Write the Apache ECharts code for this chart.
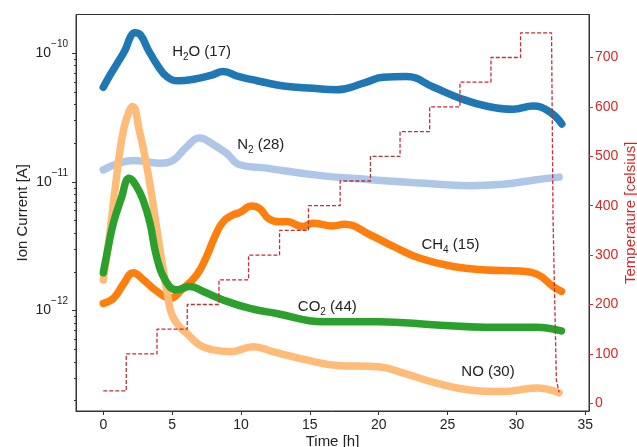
<!DOCTYPE html>
<html><head><meta charset="utf-8">
<script src="https://cdn.jsdelivr.net/npm/echarts@6/dist/echarts.min.js"></script>
<style>html,body{margin:0;padding:0;background:#fff}#c{width:637px;height:447px}</style>
</head><body><div id="c"></div>
<script>
// ---- data ----
const h2oTime = [0, 0.5, 1.0, 1.6, 2.0, 2.3, 2.7, 3.27, 4.0, 4.6, 5.44, 6.65, 7.87, 8.7, 9.8, 10.9, 12.0, 13.1, 15.2, 16.9, 18.9, 20.3, 22.0, 24.0, 25.9, 27.8, 29.75, 31.2, 32.4, 33.3];
const h2oVal  = [5.44e-11, 6.78e-11, 8.3e-11, 1.066e-10, 1.36e-10, 1.445e-10, 1.39e-10, 1.06e-10, 7.87e-11, 6.6e-11, 6.1e-11, 6.3e-11, 6.77e-11, 7.2e-11, 6.6e-11, 6.2e-11, 5.85e-11, 5.57e-11, 5.34e-11, 5.2e-11, 5.85e-11, 6.5e-11, 6.6e-11, 5.44e-11, 4.47e-11, 3.89e-11, 3.67e-11, 3.89e-11, 3.51e-11, 2.82e-11];

const n2Time = [0, 1.0, 2.2, 3.2, 4.1, 5.1, 6.0, 7.0, 8.0, 8.95, 9.9, 11.86, 15.5, 19.4, 23.0, 26.6, 29.05, 31.45, 33.1];
const n2Val  = [1.24e-11, 1.38e-11, 1.47e-11, 1.43e-11, 1.40e-11, 1.48e-11, 1.85e-11, 2.19e-11, 1.95e-11, 1.67e-11, 1.36e-11, 1.28e-11, 1.13e-11, 1.04e-11, 9.8e-12, 9.35e-12, 9.6e-12, 1.04e-11, 1.09e-11];

const ch4Time = [0, 0.75, 1.45, 2.18, 2.93, 3.87, 4.84, 5.8, 6.78, 7.5, 8.1, 8.7, 9.43, 9.92, 10.77, 11.37, 11.97, 12.7, 13.3, 14.5, 15.2, 16.7, 17.5, 19.4, 21.1, 23.0, 25.4, 27.8, 30.2, 31.45, 32.66, 33.27];
const ch4Val  = [1.14e-12, 1.25e-12, 1.6e-12, 1.97e-12, 1.73e-12, 1.42e-12, 1.25e-12, 1.49e-12, 1.89e-12, 2.63e-12, 3.76e-12, 4.9e-12, 5.55e-12, 5.8e-12, 6.5e-12, 6.2e-12, 5.22e-12, 4.9e-12, 4.92e-12, 4.5e-12, 4.78e-12, 4.55e-12, 4.7e-12, 3.87e-12, 3.14e-12, 2.55e-12, 2.2e-12, 2.07e-12, 2.03e-12, 1.93e-12, 1.54e-12, 1.41e-12];

const noTime = [0, 0.5, 0.85, 1.33, 1.7, 2.13, 2.66, 3.03, 3.45, 3.9, 4.2, 4.68, 4.95, 5.4, 6.05, 7.0, 7.98, 9.2, 10.9, 12.3, 14.76, 17.0, 20.0, 21.8, 24.2, 26.6, 29.0, 31.45, 33.1];
const noVal  = [1.73e-12, 4.2e-12, 8.7e-12, 2.12e-11, 3.13e-11, 3.85e-11, 2.39e-11, 1.57e-11, 8.7e-12, 4.24e-12, 2.63e-12, 1.3e-12, 9.5e-13, 7.8e-13, 6.67e-13, 5.4e-13, 4.95e-13, 4.8e-13, 5.25e-13, 4.8e-13, 4.14e-13, 3.75e-13, 3.67e-13, 3.27e-13, 2.73e-13, 2.42e-13, 2.35e-13, 2.5e-13, 2.3e-13];

const co2Time = [0, 0.35, 0.73, 1.3, 1.89, 2.4, 2.9, 3.39, 3.87, 4.48, 5.33, 6.29, 7.26, 8.7, 10.65, 12.58, 15.97, 20.0, 24.2, 27.8, 31.45, 33.27];
const co2Val  = [1.97e-12, 3.07e-12, 4.78e-12, 7.4e-12, 1.07e-11, 9.3e-12, 7.2e-12, 4.8e-12, 2.63e-12, 1.74e-12, 1.45e-12, 1.54e-12, 1.41e-12, 1.21e-12, 1.04e-12, 9.5e-13, 8.2e-13, 8.2e-13, 7.74e-13, 7.43e-13, 7.43e-13, 6.95e-13];

const tempTime = [0, 1.67, 1.67, 3.9, 3.9, 6.1, 6.1, 8.4, 8.4, 10.55, 10.55, 12.8, 12.8, 14.9, 14.9, 17.2, 17.2, 19.4, 19.4, 21.55, 21.55, 23.7, 23.7, 25.9, 25.9, 28.15, 28.15, 30.3, 30.3, 32.55, 32.66, 32.9, 33.1];
const tempVal  = [25, 25, 100, 100, 150, 150, 200, 200, 250, 250, 300, 300, 350, 350, 400, 400, 450, 450, 500, 500, 550, 550, 600, 600, 650, 650, 700, 700, 750, 750, 372, 47, 22];

const xTicks = [0, 5, 10, 15, 20, 25, 30, 35];
const tempTicks = [0, 100, 200, 300, 400, 500, 600, 700];

const labels = [
  {text: '{m|H}{s|2}{m|O (17)}', x: 5.0, y: 1.02e-10},
  {text: '{m|N}{s|2}{m| (28)}', x: 9.72, y: 1.94e-11},
  {text: '{m|CH}{s|4}{m| (15)}', x: 23.1, y: 3.24e-12},
  {text: '{m|CO}{s|2}{m| (44)}', x: 14.13, y: 1.07e-12},
  {text: '{m|NO (30)}', x: 26.0, y: 3.34e-13}
];

// ---- chart ----
const FONT = '"Liberation Sans", Arial, sans-serif';
const TXT = '#222';
const RED = '#d62728';
const DASH = '#bd3138';
const AX = '#333';
const yMin = 1.66e-13, yMax = 2.0e-10;
const minorTicks = [];
for (let e = -13; e <= -10; e++) for (let k = 2; k <= 9; k++) {
  const v = k * Math.pow(10, e);
  if (v > yMin && v < yMax) minorTicks.push(Math.log10(v));
}
function pairs(t, v) { return t.map((x, i) => [x, v[i]]); }
function gas(name, t, v, color) {
  return {
    name, type: 'line', xAxisIndex: 0, yAxisIndex: 0, data: pairs(t, v),
    showSymbol: false, smooth: 0.45, silent: true,
    lineStyle: {color, width: 7.5, cap: 'round', join: 'round'}
  };
}
const chart = echarts.init(document.getElementById('c'), null, {renderer: 'canvas'});
chart.setOption({
  animation: false,
  backgroundColor: '#fff',
  textStyle: {fontFamily: FONT},
  grid: {left: 76, right: 48, top: 14.5, bottom: 36, show: true, borderColor: AX, borderWidth: 1,
         backgroundColor: 'transparent', outerBoundsMode: 'none', containLabel: false},
  xAxis: {
    type: 'value', min: -1.98, max: 35.27,
    name: 'Time [h]', nameLocation: 'middle', nameGap: 23, nameMoveOverlap: false,
    nameTextStyle: {fontSize: 15, color: TXT, fontFamily: FONT},
    axisLine: {show: true, onZero: false, lineStyle: {color: AX}},
    axisTick: {show: true, length: 4, customValues: xTicks, lineStyle: {color: AX}},
    axisLabel: {customValues: xTicks, fontSize: 14, color: TXT, margin: 7, fontFamily: FONT},
    splitLine: {show: false}
  },
  yAxis: [
    {
      type: 'log', logBase: 10, min: yMin, max: yMax, position: 'left',
      name: 'Ion Current [A]', nameLocation: 'middle', nameGap: 46, nameRotate: 90, nameMoveOverlap: false,
      nameTextStyle: {fontSize: 15, color: TXT, fontFamily: FONT},
      axisLine: {show: true, onZero: false, lineStyle: {color: AX}},
      axisTick: {show: true, length: 4, lineStyle: {color: AX}},
      axisLabel: {
        showMinLabel: false, showMaxLabel: false, margin: 8,
        formatter: function (v) { const e = Math.round(Math.log10(v)); return '{b|10}{s|\u2212' + (-e) + '}'; },
        rich: {
          b: {fontSize: 14, lineHeight: 28, verticalAlign: 'middle', color: TXT, fontFamily: FONT},
          s: {fontSize: 10, lineHeight: 10, verticalAlign: 'top', color: TXT, fontFamily: FONT}
        }
      },
      splitLine: {show: false}
    },
    {
      type: 'value', min: -15.6, max: 787, position: 'right',
      name: 'Temperature [celsius]', nameLocation: 'middle', nameGap: 34, nameRotate: 90, nameMoveOverlap: false,
      nameTextStyle: {fontSize: 15, color: RED, fontFamily: FONT},
      axisLine: {show: true, onZero: false, lineStyle: {color: AX}},
      axisTick: {show: true, length: 4, customValues: tempTicks, lineStyle: {color: RED}},
      axisLabel: {customValues: tempTicks, fontSize: 14, color: RED, margin: 6, fontFamily: FONT},
      splitLine: {show: false}
    },
    {
      type: 'value', min: Math.log10(yMin), max: Math.log10(yMax), position: 'left',
      axisLine: {show: false, onZero: false},
      axisTick: {show: true, length: 2, customValues: minorTicks, lineStyle: {color: AX}},
      axisLabel: {show: false},
      splitLine: {show: false}
    }
  ],
  series: [
    gas('H2O', h2oTime, h2oVal, '#1f77b4'),
    gas('N2', n2Time, n2Val, '#aec7e8'),
    gas('CH4', ch4Time, ch4Val, '#ff7f0e'),
    gas('NO', noTime, noVal, '#ffbb78'),
    gas('CO2', co2Time, co2Val, '#2ca02c'),
    {
      name: 'Temperature', type: 'line', xAxisIndex: 0, yAxisIndex: 1,
      data: pairs(tempTime, tempVal), showSymbol: false, smooth: false, silent: true,
      lineStyle: {color: DASH, width: 1.3, type: [4, 2]}
    }
  ]
});
const graphics = labels.map(l => {
  const p = chart.convertToPixel({xAxisIndex: 0, yAxisIndex: 0}, [l.x, l.y]);
  return {
    type: 'text', x: p[0], y: p[1], z: 100,
    style: {
      text: l.text, fill: TXT, fontSize: 15, fontFamily: FONT,
      align: 'left', verticalAlign: 'middle',
      rich: {
        m: {fontSize: 15, lineHeight: 20, verticalAlign: 'middle', fill: TXT, fontFamily: FONT},
        s: {fontSize: 10, lineHeight: 11, verticalAlign: 'bottom', fill: TXT, fontFamily: FONT}
      }
    }
  };
});
chart.setOption({graphic: graphics});
</script>
</body></html>
